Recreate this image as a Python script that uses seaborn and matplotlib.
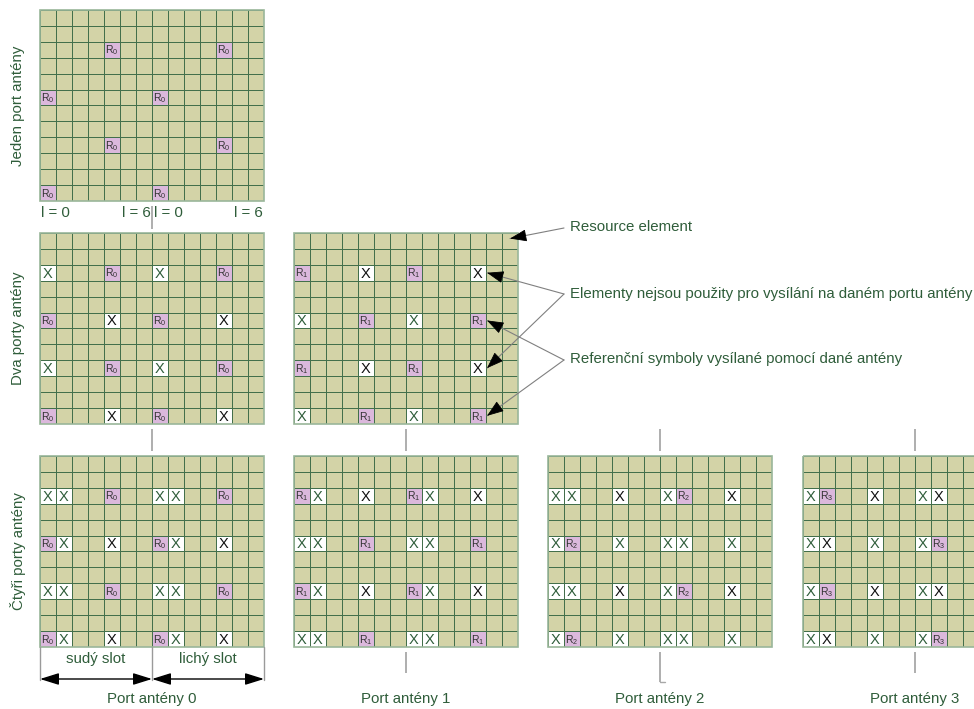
import numpy as np
import pandas as pd
import matplotlib
matplotlib.use("Agg")
import matplotlib.pyplot as plt
from matplotlib.colors import ListedColormap
from matplotlib.patches import Rectangle
import seaborn as sns

# ---------------- data ----------------
N_SUBCARRIERS = 12          # rows of a resource block
N_SYMBOLS = 14              # OFDM symbols in a subframe (2 slots x 7)
# reference-signal resource elements (row from top, symbol column) per antenna port
RS_PORT0 = [(2, 4), (2, 11), (5, 0), (5, 7), (8, 4), (8, 11), (11, 0), (11, 7)]
RS_PORT1 = [(2, 0), (2, 7), (5, 4), (5, 11), (8, 0), (8, 7), (11, 4), (11, 11)]
RS_PORT2 = [(2, 8), (5, 1), (8, 8), (11, 1)]
RS_PORT3 = [(2, 1), (5, 8), (8, 1), (11, 8)]
RS_POSITIONS = [RS_PORT0, RS_PORT1, RS_PORT2, RS_PORT3]

# grids: (number of configured ports, shown port)
GRID_CONFIGS = [(1, 0), (2, 0), (2, 1), (4, 0), (4, 1), (4, 2), (4, 3)]
ROW_LABELS = ["Jeden port antény", "Dva porty antény", "Čtyři porty antény"]
PORT_LABELS = ["Port antény 0", "Port antény 1", "Port antény 2", "Port antény 3"]
SYMBOL_LABELS = ["l = 0", "l = 6", "l = 0", "l = 6"]
SLOT_LABELS = ["sudý slot", "lichý slot"]
LEGEND_TEXTS = ["Resource element",
                "Elementy nejsou použity pro vysílání na daném portu antény",
                "Referenční symboly vysílané pomocí dané antény"]
# ports whose unused elements show a black "X" (others dark green), per shown port
BLACK_X_FROM = {0: [1], 1: [0], 2: [0], 3: [0, 2]}
BLACK_X_COLS = [4, 11]

# ---------------- style / layout ----------------
W, H = 974, 709
KHAKI = "#d3d3a7"
PINK = "#dbb8dc"
WHITE = "#ffffff"
LINE = "#436f4b"
BORDER = "#9ab69a"
TEXT_GREEN = "#2f5d3a"
GRAY = "#a8a8a8"
CELL_W, CELL_H = 16.0, 15.9
GW, GH = CELL_W * N_SYMBOLS, CELL_H * N_SUBCARRIERS
GRID_ORIGINS = [(40, 10), (40, 233), (294, 233), (40, 456), (294, 456), (548, 456), (803, 456)]

sns.set_theme(style="white")
plt.rcParams["font.family"] = ["Liberation Sans", "DejaVu Sans"]
plt.rcParams["mathtext.default"] = "regular"

fig = plt.figure(figsize=(W / 100, H / 100), dpi=100)
cmap = ListedColormap([KHAKI, WHITE, PINK])


def draw_grid(n_ports, port, x0, y0):
    mat = np.zeros((N_SUBCARRIERS, N_SYMBOLS), dtype=int)
    marks = []
    for p in range(n_ports):
        for (r, c) in RS_POSITIONS[p]:
            if p == port:
                mat[r, c] = 2
                marks.append((r, c, f"R$_{p}$", "#333333", 7.5))
            else:
                mat[r, c] = 1
                black = p in BLACK_X_FROM[port] and (c in BLACK_X_COLS or p >= 2)
                col = "#111111" if black else TEXT_GREEN
                marks.append((r, c, "X", col, 10.5))
    ax = fig.add_axes([x0 / W, 1 - (y0 + GH) / H, GW / W, GH / H])
    sns.heatmap(pd.DataFrame(mat), ax=ax, cmap=cmap, vmin=-0.5, vmax=2.5, cbar=False,
                linewidths=0.65, linecolor=LINE, xticklabels=False, yticklabels=False)
    for s in ax.spines.values():
        s.set_visible(False)
    for (r, c, t, col, fs) in marks:
        ax.text(c + 0.5, r + 0.55, t, ha="center", va="center", color=col, fontsize=fs)
    ax.add_patch(Rectangle((0, 0), N_SYMBOLS, N_SUBCARRIERS, fill=False,
                           edgecolor=BORDER, lw=1.2, clip_on=False))
    return ax


for (n_ports, port), (x0, y0) in zip(GRID_CONFIGS, GRID_ORIGINS):
    draw_grid(n_ports, port, x0, y0)

# ---------------- overlay ----------------
ov = fig.add_axes([0, 0, 1, 1])
ov.set_xlim(0, W)
ov.set_ylim(H, 0)
ov.axis("off")
ov.patch.set_alpha(0)

FS = 10.8
# row labels
for i, lab in enumerate(ROW_LABELS):
    y0 = GRID_ORIGINS[[0, 1, 3][i]][1]
    ov.text(18, y0 + GH / 2, lab, rotation=90, ha="center", va="center",
            color=TEXT_GREEN, fontsize=FS)

# symbol index labels under first grid
x0, y0 = GRID_ORIGINS[0]
mid = x0 + GW / 2
ly = y0 + GH + 12
ov.text(x0 + 1, ly, SYMBOL_LABELS[0], ha="left", va="center", color=TEXT_GREEN, fontsize=FS)
ov.text(mid - 1, ly, SYMBOL_LABELS[1], ha="right", va="center", color=TEXT_GREEN, fontsize=FS)
ov.text(mid + 2, ly, SYMBOL_LABELS[2], ha="left", va="center", color=TEXT_GREEN, fontsize=FS)
ov.text(x0 + GW - 1, ly, SYMBOL_LABELS[3], ha="right", va="center", color=TEXT_GREEN, fontsize=FS)

# vertical separators
def vline(x, ya, yb):
    ov.plot([x, x], [ya, yb], color=GRAY, lw=1.3, solid_capstyle="butt")

vline(mid, 206, 229)
vline(mid, 429, 451)
for (x0g, y0g) in GRID_ORIGINS[2:3]:
    vline(x0g + GW / 2, 429, 451)
for (x0g, y0g) in GRID_ORIGINS[5:]:
    vline(x0g + GW / 2, 429, 451)
for k, (x0g, y0g) in enumerate(GRID_ORIGINS[4:]):
    cx = x0g + GW / 2
    yb = 682 if k == 1 else 673
    vline(cx, 652, yb)
    if k == 1:
        ov.plot([cx, cx + 5], [yb, yb], color=GRAY, lw=1.0)

# port labels
for k, (x0g, y0g) in enumerate(GRID_ORIGINS[3:]):
    ov.text(x0g + GW / 2, 699, PORT_LABELS[k], ha="center", va="center",
            color=TEXT_GREEN, fontsize=FS)

# slot box under port 0 grid
x0, y0 = GRID_ORIGINS[3]
yb = y0 + GH
for xx in (x0, x0 + GW / 2, x0 + GW):
    ov.plot([xx, xx], [yb, 680], color="#9a9a9a", lw=1.0)
ov.text(x0 + GW / 4, 659, SLOT_LABELS[0], ha="center", va="center", color=TEXT_GREEN, fontsize=FS)
ov.text(x0 + 3 * GW / 4, 659, SLOT_LABELS[1], ha="center", va="center", color=TEXT_GREEN, fontsize=FS)
dbl = dict(arrowstyle="<|-|>,head_length=1.15,head_width=0.36", color="black", lw=1.0,
           mutation_scale=10, shrinkA=0, shrinkB=0)
ov.annotate("", xy=(x0, 679), xytext=(x0 + GW / 2, 679), arrowprops=dbl)
ov.annotate("", xy=(x0 + GW / 2, 679), xytext=(x0 + GW, 679), arrowprops=dbl)

# legend texts with pointers
LX = 570
legend_y = [227, 294, 359]
for t, yy in zip(LEGEND_TEXTS, legend_y):
    ov.text(LX, yy, t, ha="left", va="center", color=TEXT_GREEN, fontsize=FS)

gx, gy = GRID_ORIGINS[2]
def cell_right(r, c):
    return (gx + (c + 1) * CELL_W + 1, gy + (r + 0.5) * CELL_H)

def pointer(start, tip):
    sx, sy = start
    tx, ty = tip
    ov.plot([sx, tx], [sy, ty], color="#808080", lw=0.8)
    d = np.hypot(sx - tx, sy - ty)
    bx, by = tx + (sx - tx) * 14 / d, ty + (sy - ty) * 14 / d
    ov.annotate("", xy=(tx, ty), xytext=(bx, by),
                arrowprops=dict(arrowstyle="-|>,head_length=1.05,head_width=0.38",
                                color="black", lw=0.6, mutation_scale=10,
                                shrinkA=0, shrinkB=0))

pointer((564, 228), (gx + GW - 8, gy + 0.35 * CELL_H))
pointer((564, 294), cell_right(2, 11))
pointer((564, 294), cell_right(8, 11))
pointer((564, 360), cell_right(5, 11))
pointer((564, 360), cell_right(11, 11))

fig.savefig("out.png", dpi=100)
